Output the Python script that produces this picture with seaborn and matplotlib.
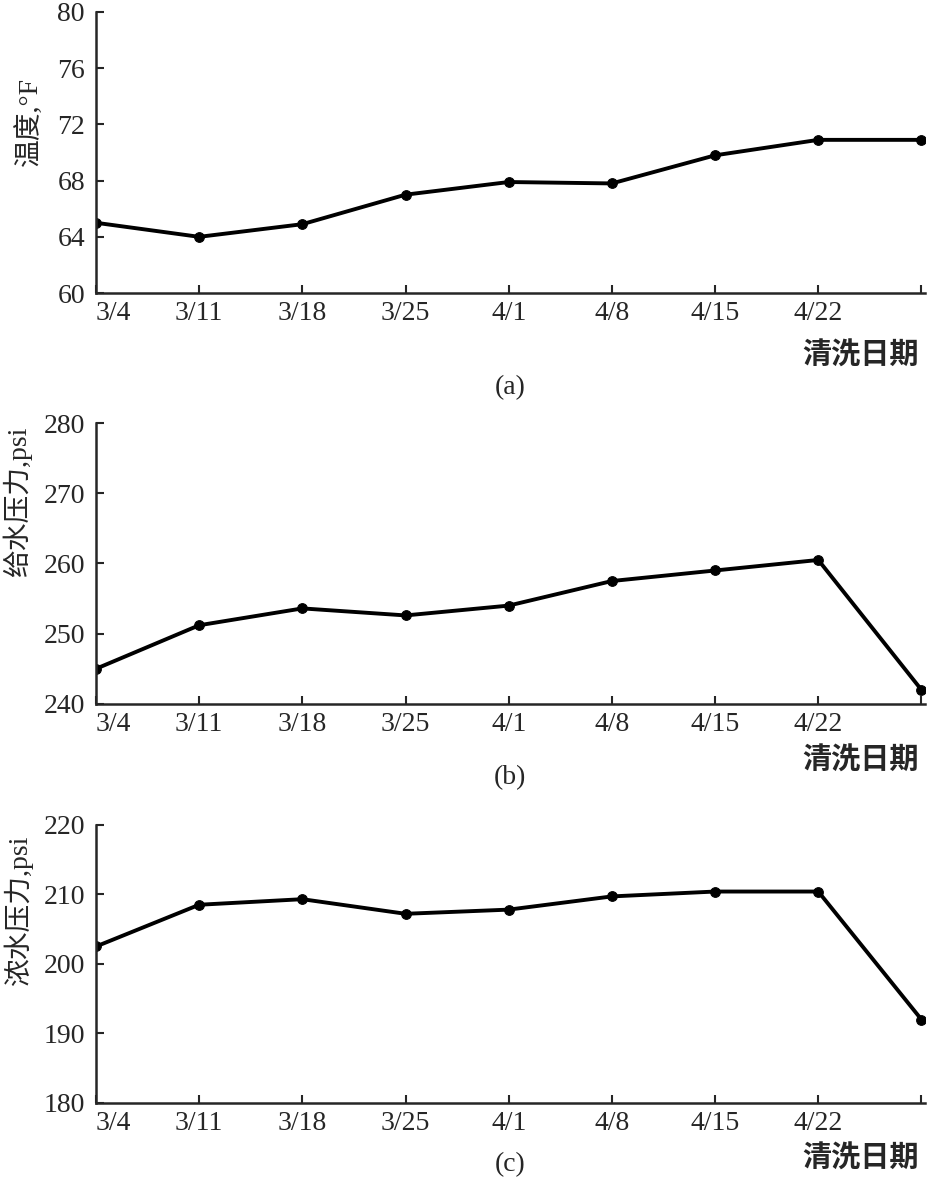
import numpy as np
import pandas as pd
import matplotlib
matplotlib.use("Agg")
import matplotlib.pyplot as plt
import seaborn as sns

# data
dates = ["3/4", "3/11", "3/18", "3/25", "4/1", "4/8", "4/15", "4/22", ""]
temp = [65.0, 64.0, 64.9, 67.0, 67.9, 67.8, 69.8, 70.9, 70.9]
feed_p = [245.0, 251.2, 253.6, 252.6, 254.0, 257.5, 259.0, 260.5, 242.0]
conc_p = [202.5, 208.5, 209.3, 207.2, 207.8, 209.7, 210.4, 210.4, 192.0]

sns.set_style("ticks")
plt.rcParams['font.family'] = ['Liberation Serif', 'Noto Sans CJK SC']
plt.rcParams['axes.linewidth'] = 1.8

fig = plt.figure(figsize=(9.32, 11.85), dpi=100)

panels = [
    # values, ylabel, ylim, yticks, axes rect, label coords, xlabel y, letter y
    (temp, "温度,°F", (60, 80), [60, 64, 68, 72, 76, 80],
     [0.103, 0.7527, 0.889, 0.2372], (-0.064, 0.61), -0.22, -0.338, "(a)"),
    (feed_p, "给水压力,psi", (240, 280), [240, 250, 260, 270, 280],
     [0.103, 0.406, 0.889, 0.237], (-0.077, 0.72), -0.20, -0.263, "(b)"),
    (conc_p, "浓水压力,psi", (180, 220), [180, 190, 200, 210, 220],
     [0.103, 0.0692, 0.889, 0.2348], (-0.076, 0.69), -0.198, -0.223, "(c)"),
]

for vals, ylab, ylim, yticks, rect, lab_xy, xl_y, let_y, letter in panels:
    ax = fig.add_axes(rect)
    df = pd.DataFrame({"x": np.arange(len(vals)), "y": vals})
    sns.lineplot(data=df, x="x", y="y", ax=ax, color="black", lw=2.8,
                 marker="o", markersize=7, markeredgecolor="black")
    ax.set_xlim(0, 8.03)
    ax.set_ylim(*ylim)
    ax.set_yticks(yticks)
    ax.set_xticks(np.arange(len(dates)))
    ax.set_xticklabels(dates)
    ax.get_xticklabels()[0].set_horizontalalignment("left")
    sns.despine(ax=ax)
    ax.tick_params(direction="in", length=6, width=1.5, labelsize=20)
    ax.tick_params(axis="x", pad=6)
    ax.tick_params(axis="y", pad=8)
    ax.set_xlabel("")
    ax.set_ylabel(ylab, fontsize=20)
    ax.yaxis.set_label_coords(*lab_xy)
    ax.text(0.993, xl_y, "清洗日期", transform=ax.transAxes, ha="right",
            va="center", fontsize=21, fontweight="bold",
            family=['Noto Sans CJK SC'])
    ax.text(0.5, let_y, letter, transform=ax.transAxes, ha="center",
            va="center", fontsize=20)

fig.savefig("out.png", dpi=100)
